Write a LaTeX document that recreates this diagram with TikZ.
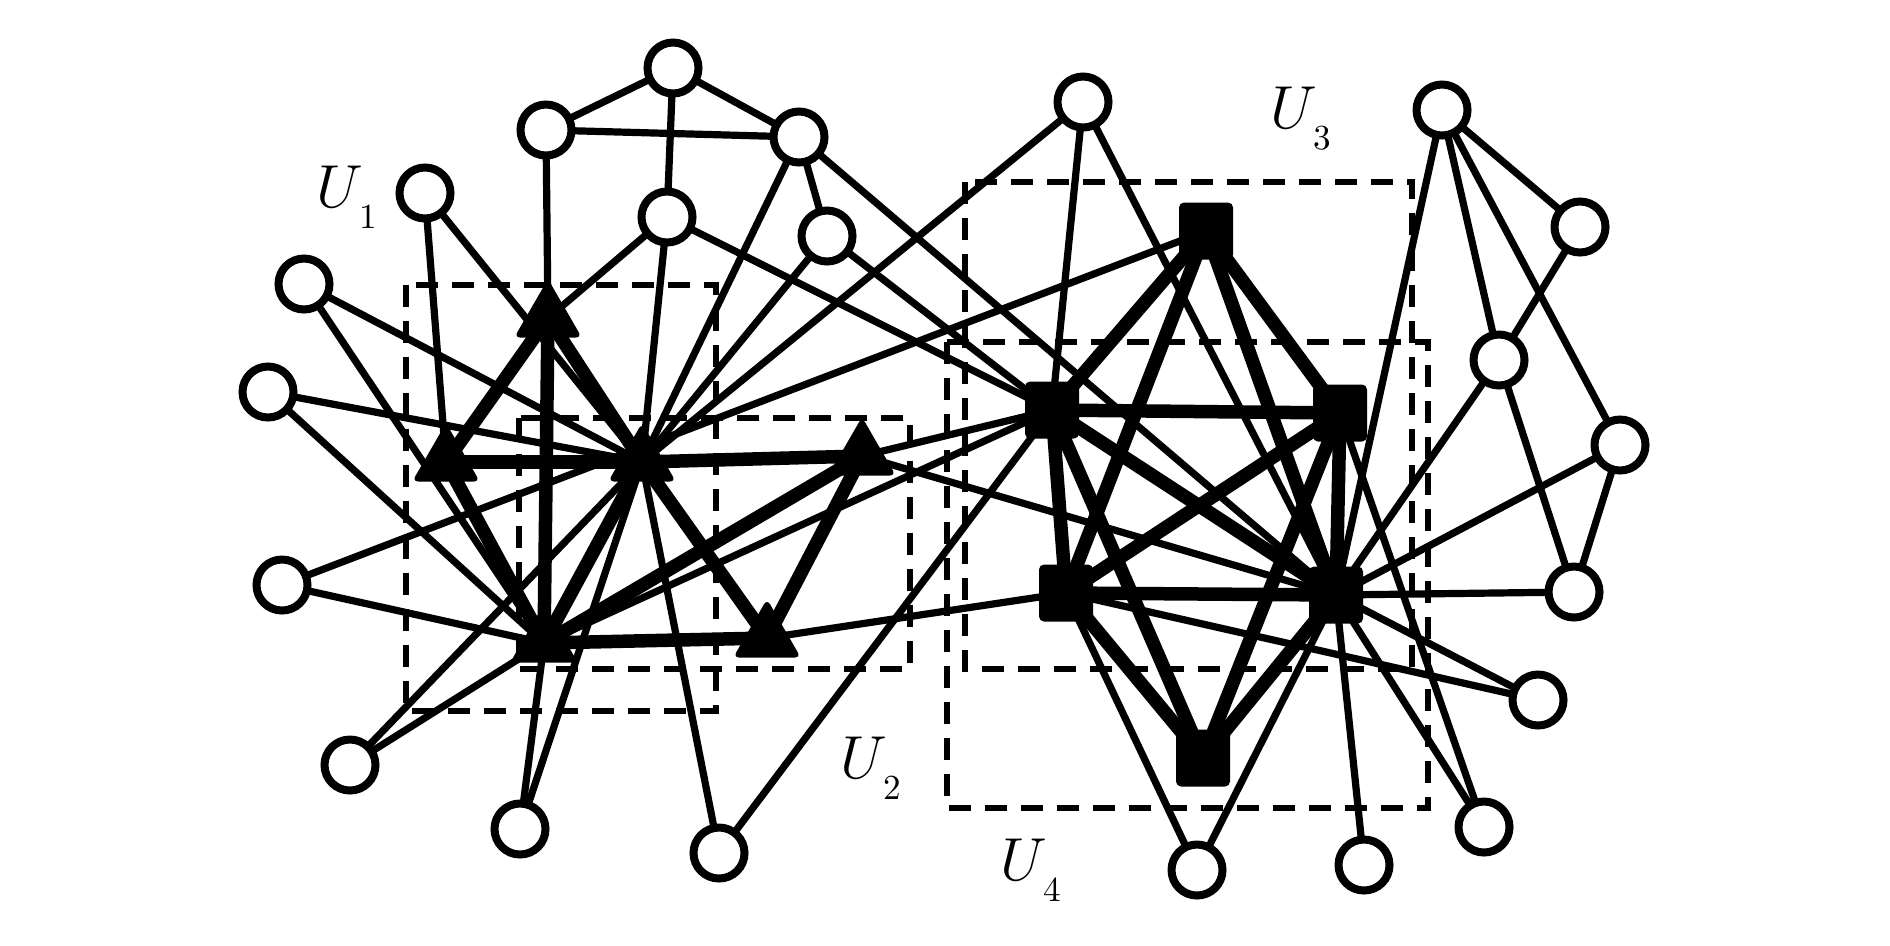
\documentclass[tikz,border=0pt]{standalone}
\usetikzlibrary{shapes.geometric}
\pgfdeclarelayer{bg}
\pgfsetlayers{bg,main}
\begin{document}
\begin{tikzpicture}[x=0.1mm,y=-0.1mm,
  open/.style={circle,draw=black,fill=white,line width=0.8mm,minimum size=5.1mm,inner sep=0pt},
  tri/.style={regular polygon,regular polygon sides=3,fill=black,minimum size=7.8mm,inner sep=0pt,rounded corners=0.6mm},
  sq/.style={rectangle,fill=black,minimum width=5.4mm,minimum height=5.7mm,inner sep=0pt,rounded corners=0.5mm},
  thinedge/.style={line width=0.72mm,line cap=round},
  thickedge/.style={line width=1.35mm,line cap=round},
  grpbox/.style={line width=0.65mm,dash pattern=on 2.2mm off 1.4mm},
  lbl/.style={inner sep=0pt,anchor=base west,font=\fontsize{19}{22}\selectfont}
]
\useasboundingbox (0,0) rectangle (1890,945);
% open nodes
\node[open] (c1) at (673,68) {};
\node[open] (c2) at (546,130) {};
\node[open] (c3) at (799,137) {};
\node[open] (c4) at (425,193) {};
\node[open] (c5) at (667,217) {};
\node[open] (c6) at (827,236) {};
\node[open] (c7) at (304,284) {};
\node[open] (c8) at (268,392) {};
\node[open] (c9) at (282,585) {};
\node[open] (c10) at (350,765) {};
\node[open] (c11) at (520,829) {};
\node[open] (c12) at (719,853) {};
\node[open] (c13) at (1083,102) {};
\node[open] (c14) at (1442,110) {};
\node[open] (c15) at (1580,227) {};
\node[open] (c16) at (1499,360) {};
\node[open] (c17) at (1620,445) {};
\node[open] (c18) at (1574,592) {};
\node[open] (c19) at (1538,700) {};
\node[open] (c20) at (1484,827) {};
\node[open] (c21) at (1364,865) {};
\node[open] (c22) at (1197,870) {};
% triangles
\node[tri] (t1) at (548,318) {};
\node[tri] (t2) at (446,462) {};
\node[tri] (t3) at (642,462) {};
\node[tri] (t4) at (862,456) {};
\node[tri] (t5) at (544,643) {};
\node[tri] (t6) at (767,638) {};
% squares
\node[sq] (s1) at (1206,231) {};
\node[sq] (s2) at (1052,410) {};
\node[sq] (s3) at (1340,413) {};
\node[sq] (s4) at (1066,593) {};
\node[sq] (s5) at (1336,595) {};
\node[sq] (s6) at (1203,758) {};
% labels
\node[lbl] (u1) at (316,207) {$U$\kern-1pt\raisebox{-2.1mm}{\fontsize{10}{12}\selectfont 1}};
\node[lbl] (u2) at (840,778) {$U$\kern-1pt\raisebox{-2.1mm}{\fontsize{10}{12}\selectfont 2}};
\node[lbl] (u3) at (1270,128) {$U$\kern-1pt\raisebox{-2.1mm}{\fontsize{10}{12}\selectfont 3}};
\node[lbl] (u4) at (1000,880) {$U$\kern-1pt\raisebox{-2.1mm}{\fontsize{10}{12}\selectfont 4}};
\begin{pgfonlayer}{bg}
% dashed group boxes
\draw[grpbox] (406,285) rectangle (716,711);
\draw[grpbox] (519,418) rectangle (910,669);
\draw[grpbox] (965,182) rectangle (1412,669);
\draw[grpbox] (947,342) rectangle (1428,808);
% thick edges
\foreach \a/\b in {t1/t2,t1/t3,t1/t5,t2/t3,t2/t5,t3/t5,t3/t4,t3/t6,t4/t5,t4/t6,t5/t6,
  s1/s2,s1/s3,s1/s4,s1/s5,s2/s3,s2/s4,s2/s5,s3/s4,s3/s5,s4/s5,s6/s2,s6/s3,s6/s4,s6/s5}
  \draw[thickedge] (\a.center) -- (\b.center);
% thin edges
\foreach \a/\b in {c1/c2,c1/c3,c1/c5,c2/c3,c2/t1,c3/c6,c3/t3,c3/s5,c4/t2,c4/t3,c5/t1,c5/t3,c5/s2,
  c6/t3,c6/s2,c7/t3,c7/t5,c8/t3,c8/t5,c9/s1,c9/t5,c10/t3,c10/t5,c11/t3,c11/t5,c12/t3,c12/s2,
  c13/t3,c13/s2,c13/s5,t4/s2,t4/s5,t5/s2,t6/s4,
  c14/c15,c14/c16,c14/c17,c14/s5,c15/c16,c16/c18,c16/s5,c17/c18,c17/s5,c18/s5,c19/s5,c19/s4,
  c20/s5,c20/s3,c21/s5,c22/s4,c22/s5}
  \draw[thinedge] (\a.center) -- (\b.center);
\end{pgfonlayer}
\end{tikzpicture}
\end{document}
